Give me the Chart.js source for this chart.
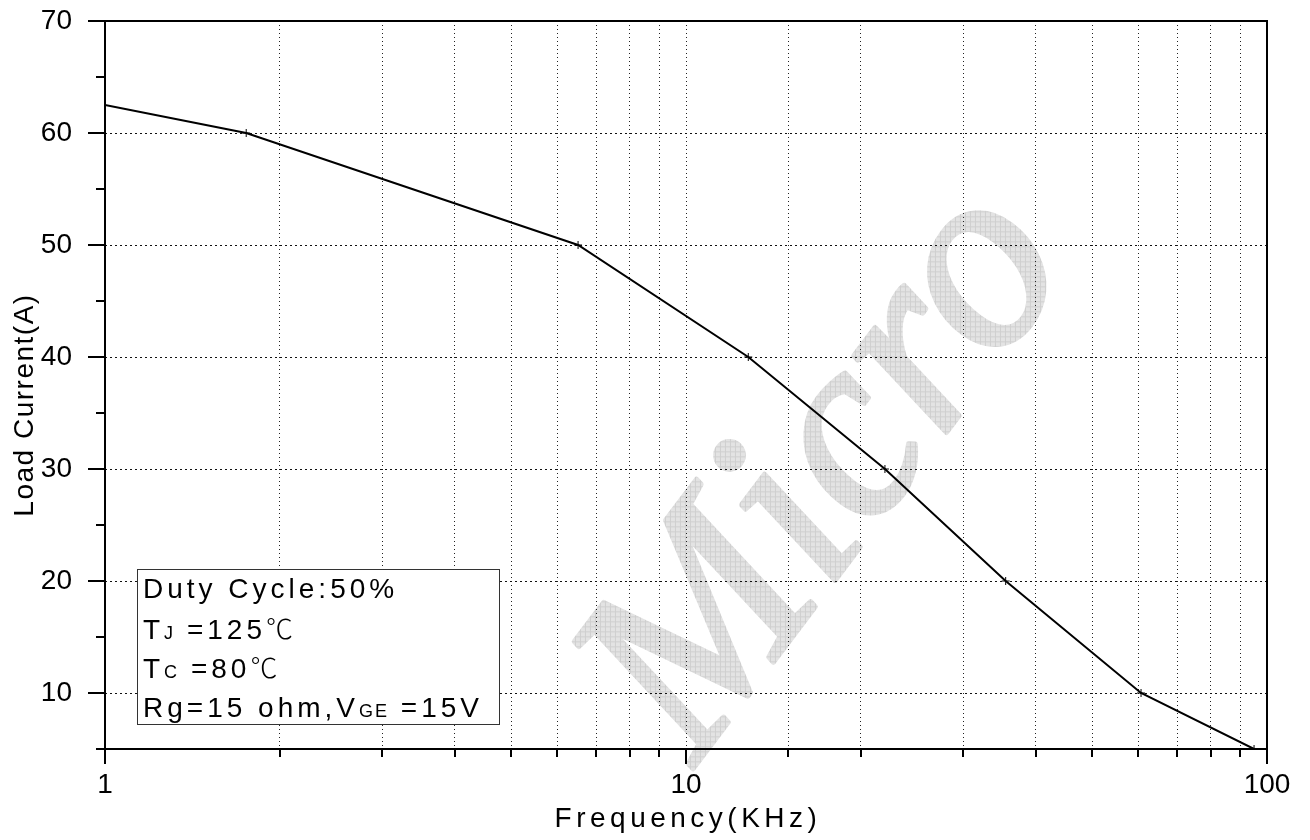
<!DOCTYPE html>
<html>
<head>
<meta charset="utf-8">
<title>Load Current vs Frequency</title>
<script src="https://cdn.jsdelivr.net/npm/chart.js@4.4.1/dist/chart.umd.min.js"></script>
<style>
  html, body { margin: 0; padding: 0; background: #fff; }
  #wrap { width: 1310px; height: 840px; position: relative; }
</style>
</head>
<body>
<div id="wrap"><canvas id="loadChart"></canvas></div>
<script>
// frequency (kHz) and the matching load current (A)
const freqKHz = [1, 1.75, 6.52, 12.8, 22.0, 35.5, 60.7, 95];
const loadCurrent = [62.5, 60, 50, 40, 30, 20, 10, 5];
const markerRadius = [0, 4, 4, 4, 4, 4, 4, 4];

// axis ranges and labelled ticks
const xMin = 1, xMax = 100;
const xLabeled = [1, 10, 100];
const yMin = 5, yMax = 70, yStep = 5, yLabelStep = 10;

const xTitle = 'Frequency(KHz)';
const yTitle = 'Load Current(A)';
const noteLines = [
  [{ t: 'Duty Cycle:50%' }],
  [{ t: 'T' }, { t: 'J', sub: true }, { t: ' =125' }, { t: '℃', deg: true }],
  [{ t: 'T' }, { t: 'C', sub: true }, { t: ' =80' }, { t: '℃', deg: true }],
  [{ t: 'Rg=15 ohm,V' }, { t: 'GE', sub: true }, { t: ' =15V' }]
];

const SANS = '"Liberation Sans", Arial, sans-serif';

const isDecade = v => Math.abs(Math.log10(v) - Math.round(Math.log10(v))) < 1e-9;

// big hatched logo behind everything
const watermark = {
  id: 'watermark',
  beforeDraw(chart) {
    const ctx = chart.ctx;
    const tile = document.createElement('canvas');
    tile.width = tile.height = 5;
    const t = tile.getContext('2d');
    t.fillStyle = '#e3e3e3';
    t.fillRect(0, 0, 5, 5);
    t.fillStyle = '#cfcfcf';
    t.fillRect(0, 0, 5, 1);
    t.fillRect(0, 0, 1, 5);
    const pat = ctx.createPattern(tile, 'repeat');
    const deg = -53;
    const ang = deg * Math.PI / 180;
    pat.setTransform(new DOMMatrix().rotate(-deg));

    ctx.save();
    const em = 262;
    ctx.font = `italic ${em}px "Liberation Serif", serif`;
    const cx = ctx.measureText('Mi').width + ctx.measureText('c').width / 2;
    const cy = -0.225 * em;
    const tx = 858 - (cx * Math.cos(ang) - cy * Math.sin(ang));
    const ty = 452 - (cx * Math.sin(ang) + cy * Math.cos(ang));
    ctx.translate(tx, ty);
    ctx.rotate(ang);
    ctx.fillStyle = pat;
    ctx.strokeStyle = pat;
    ctx.lineWidth = 5;
    ctx.lineJoin = 'round';
    ctx.strokeText('Micro', 0, 0);
    ctx.fillText('Micro', 0, 0);
    ctx.restore();
  }
};

// axis box, outward tick marks, note box
const frame = {
  id: 'frame',
  afterDatasetsDraw(chart) {
    const { ctx, chartArea: a, scales: { x, y } } = chart;
    ctx.save();
    ctx.strokeStyle = '#000';
    ctx.lineWidth = 2;
    ctx.strokeRect(a.left, a.top, a.right - a.left, a.bottom - a.top);
    ctx.beginPath();
    y.ticks.forEach(tk => {
      const py = Math.round(y.getPixelForValue(tk.value));
      const len = tk.value % yLabelStep === 0 ? 17 : 9;
      ctx.moveTo(a.left, py);
      ctx.lineTo(a.left - len, py);
    });
    x.ticks.forEach(tk => {
      const px = Math.round(x.getPixelForValue(tk.value));
      const len = isDecade(tk.value) ? 15 : 8;
      ctx.moveTo(px, a.bottom);
      ctx.lineTo(px, a.bottom + len);
    });
    ctx.stroke();

    // note box
    const bx = a.left + 32, by = a.top + 548, bw = 362, bh = 155;
    ctx.fillStyle = '#fff';
    ctx.fillRect(bx, by, bw, bh);
    ctx.lineWidth = 1;
    ctx.strokeStyle = '#333';
    ctx.strokeRect(bx + 0.5, by + 0.5, bw, bh);
    ctx.fillStyle = '#000';
    ctx.textBaseline = 'alphabetic';
    ctx.textAlign = 'left';
    const baselines = [29, 70, 109, 148];
    noteLines.forEach((parts, i) => {
      let cur = bx + 6;
      const base = by + baselines[i];
      parts.forEach(p => {
        if (p.sub) {
          ctx.font = `18px ${SANS}`;
          ctx.letterSpacing = '2px';
        } else if (p.deg) {
          ctx.font = '300 27px "Noto Sans CJK SC", sans-serif';
          ctx.letterSpacing = '0px';
        } else {
          ctx.font = `28px ${SANS}`;
          ctx.letterSpacing = '4px';
        }
        ctx.fillText(p.t, cur, base);
        cur += ctx.measureText(p.t).width;
      });
    });
    ctx.letterSpacing = '0px';
    ctx.restore();
  },
  afterDraw(chart) {
    const { ctx, chartArea: a } = chart;
    ctx.save();
    ctx.fillStyle = '#000';
    ctx.textAlign = 'center';
    ctx.textBaseline = 'alphabetic';
    ctx.font = `28px ${SANS}`;
    ctx.letterSpacing = '4.5px';
    ctx.fillText(xTitle, (a.left + a.right) / 2 + 2, 827);
    ctx.letterSpacing = '1.5px';
    ctx.translate(33, 405);
    ctx.rotate(-Math.PI / 2);
    ctx.fillText(yTitle, 0, 0);
    ctx.restore();
  }
};

const ctx = document.getElementById('loadChart').getContext('2d');
const loadChart = new Chart(ctx, {
  type: 'line',
  data: {
    labels: freqKHz,
    datasets: [{
      data: freqKHz.map((f, i) => ({ x: f, y: loadCurrent[i] })),
      borderColor: '#000',
      borderWidth: 2,
      pointStyle: 'cross',
      pointRadius: markerRadius,
      pointBorderWidth: 1,
      pointBorderColor: '#000',
      tension: 0,
      fill: false
    }]
  },
  options: {
    responsive: true,
    maintainAspectRatio: false,
    animation: false,
    layout: { padding: { top: 21, right: 43, left: 0, bottom: 0 } },
    plugins: {
      legend: { display: false },
      tooltip: { enabled: false }
    },
    scales: {
      x: {
        type: 'logarithmic',
        min: xMin,
        max: xMax,
        afterFit: s => {
          s.height = 91;
          s.paddingLeft = 0;
          s.paddingRight = 0;
        },
        border: { display: false, dash: [1, 3] },
        grid: {
          drawTicks: false,
          lineWidth: 1,
          color: c => (c.tick.value === xMin || c.tick.value === xMax) ? 'rgba(0,0,0,0)' : '#222'
        },
        ticks: {
          autoSkip: false,
          maxRotation: 0,
          padding: 19,
          color: '#000',
          font: { family: SANS, size: 28 },
          callback: v => xLabeled.includes(v) ? String(v) : ''
        }
      },
      y: {
        min: yMin,
        max: yMax,
        afterFit: s => {
          s.width = 105;
          s.paddingTop = 0;
          s.paddingBottom = 0;
        },
        border: { display: false, dash: [2, 3] },
        grid: {
          drawTicks: false,
          lineWidth: 1,
          color: c => (c.tick.value % yLabelStep === 0 && c.tick.value !== yMax) ? '#111' : 'rgba(0,0,0,0)'
        },
        ticks: {
          stepSize: yStep,
          padding: 33,
          color: '#000',
          font: { family: SANS, size: 28 },
          callback: v => v % yLabelStep === 0 ? String(v) : ''
        }
      }
    }
  },
  plugins: [watermark, frame]
});
</script>
</body>
</html>
